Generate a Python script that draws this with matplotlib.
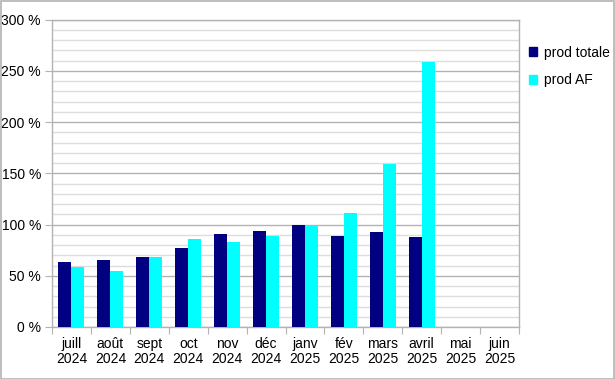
import numpy as np
import matplotlib.pyplot as plt
from matplotlib.patches import Patch, Rectangle

plt.rcParams['font.family'] = ['Liberation Sans', 'DejaVu Sans']

months = ['juill\n2024', 'août\n2024', 'sept\n2024', 'oct\n2024', 'nov\n2024', 'déc\n2024',
          'janv\n2025', 'fév\n2025', 'mars\n2025', 'avril\n2025', 'mai\n2025', 'juin\n2025']
prod_totale = [63, 65, 68, 77, 91, 94, 100, 89, 93, 88, None, None]
prod_af = [59, 55, 68, 86, 83, 89, 100, 111, 159, 259, None, None]

navy = '#000080'
cyan = '#00ffff'
grid_major = '#b3b3b3'
grid_minor = '#dddddd'

W, H = 615, 379
fig = plt.figure(figsize=(W / 100, H / 100), dpi=100)
ax = fig.add_axes([52 / W, (H - 327) / H, 467 / W, 307.5 / H])

x = np.arange(len(months))
bw = 0.334
idx = [i for i, v in enumerate(prod_totale) if v is not None]
ax.bar(x[idx] - bw / 2, [prod_totale[i] for i in idx], width=bw, color=navy, zorder=3)
idx = [i for i, v in enumerate(prod_af) if v is not None]
ax.bar(x[idx] + bw / 2, [prod_af[i] for i in idx], width=bw, color=cyan, zorder=3)

ax.set_xlim(-0.5, len(months) - 0.5)
ax.set_ylim(0, 300)

ax.set_yticks(np.arange(0, 301, 50))
ax.set_yticklabels([f'{v} %' for v in range(0, 301, 50)])
ax.set_yticks(np.arange(0, 301, 10), minor=True)
ax.grid(axis='y', which='major', color=grid_major, linewidth=1, zorder=1)
ax.grid(axis='y', which='minor', color=grid_minor, linewidth=1, zorder=0)
ax.tick_params(axis='y', which='major', length=5, color=grid_major, pad=3, labelsize=10)
ax.tick_params(axis='y', which='minor', length=0)

# category boundaries carry the tick marks, labels sit in the middle
ax.set_xticks(np.arange(-0.5, len(months), 1))
ax.set_xticklabels([])
ax.set_xticks(x, minor=True)
ax.set_xticklabels(months, minor=True, linespacing=1.15)
ax.tick_params(axis='x', which='major', length=5, color=grid_major)
ax.tick_params(axis='x', which='minor', length=0, pad=7, labelsize=10)

for s in ax.spines.values():
    s.set_color(grid_major)
    s.set_linewidth(1)

handles = [Patch(color=navy, label='prod totale'), Patch(color=cyan, label='prod AF')]
fig.legend(handles=handles, loc='upper left', bbox_to_anchor=(516 / W, 1 - 33 / H),
           frameon=False, fontsize=10, handlelength=0.6, handleheight=0.6,
           handletextpad=0.5, labelspacing=1.0)

fig.add_artist(Rectangle((0.5 / W, 0.5 / H), 1 - 1.5 / W, 1 - 1.5 / H,
                         transform=fig.transFigure, fill=False,
                         edgecolor=grid_major, linewidth=1.2))

fig.savefig('out.png', dpi=100)
